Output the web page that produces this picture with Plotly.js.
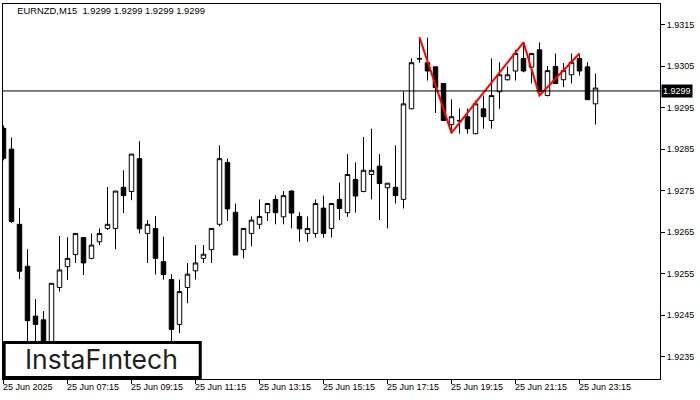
<!DOCTYPE html>
<html><head><meta charset="utf-8">
<script src="https://cdn.plot.ly/plotly-3.0.1.min.js"></script>
<style>html,body{margin:0;padding:0;background:#fff}#chart{width:700px;height:400px}</style>
</head><body><div id="chart"></div>
<script>
const chartTitle = "EURNZD,M15 \u00a01.9299 1.9299 1.9299 1.9299";
const currentPrice = 1.9299;
const currentLabel = "1.9299";

const openP = [1.92900,1.92850,1.92669,1.92568,1.92448,1.92439,1.92354,1.92517,1.92567,1.92596,
1.92637,1.92587,1.92627,1.92659,1.92659,1.92758,1.92748,1.92827,1.92647,1.92659,
1.92579,1.92536,1.92428,1.92517,1.92557,1.92587,1.92608,1.92669,1.92818,1.92698,
1.92608,1.92647,1.92669,1.92697,1.92729,1.92687,1.92749,1.92688,1.92647,1.92647,
1.92708,1.92659,1.92729,1.92697,1.92777,1.92748,1.92789,1.92809,1.92757,1.92758,
1.92729,1.92947,1.93068,1.93058,1.93048,1.93008,1.92909,1.92919,1.92928,1.92887,
1.92947,1.92919,1.92988,1.93017,1.93038,1.93068,1.93047,1.93089,1.92979,1.93049,
1.93017,1.93029,1.93068,1.93048,1.92959];
const highP = [1.92907,1.92878,1.92708,1.92609,1.92489,1.92460,1.92527,1.92641,1.92638,1.92647,
1.92637,1.92647,1.92659,1.92759,1.92749,1.92799,1.92838,1.92869,1.92679,1.92689,
1.92639,1.92549,1.92536,1.92576,1.92619,1.92619,1.92659,1.92859,1.92827,1.92719,
1.92659,1.92688,1.92729,1.92719,1.92739,1.92749,1.92751,1.92698,1.92688,1.92729,
1.92738,1.92720,1.92769,1.92838,1.92818,1.92879,1.92899,1.92838,1.92768,1.92859,
1.92989,1.93068,1.93119,1.93118,1.93049,1.93008,1.92970,1.92948,1.92948,1.92967,
1.92979,1.93068,1.93059,1.93049,1.93089,1.93107,1.93080,1.93107,1.93050,1.93080,
1.93057,1.93080,1.93080,1.93059,1.93032];
const lowP = [1.92823,1.92672,1.92537,1.92386,1.92378,1.92306,1.92342,1.92507,1.92535,1.92576,
1.92547,1.92585,1.92619,1.92655,1.92609,1.92696,1.92727,1.92647,1.92576,1.92548,
1.92536,1.92378,1.92407,1.92479,1.92536,1.92576,1.92576,1.92664,1.92677,1.92595,
1.92587,1.92616,1.92658,1.92677,1.92669,1.92669,1.92659,1.92627,1.92627,1.92637,
1.92637,1.92637,1.92679,1.92687,1.92697,1.92746,1.92729,1.92679,1.92659,1.92719,
1.92707,1.92946,1.93058,1.93015,1.92937,1.92918,1.92887,1.92887,1.92887,1.92886,
1.92899,1.92899,1.92947,1.93015,1.93015,1.93035,1.93008,1.92988,1.92977,1.93007,
1.92999,1.93008,1.93027,1.92969,1.92909];
const closeP = [1.92828,1.92676,1.92556,1.92437,1.92428,1.92330,1.92527,1.92559,1.92587,1.92647,
1.92576,1.92619,1.92647,1.92669,1.92749,1.92738,1.92838,1.92658,1.92669,1.92587,
1.92548,1.92416,1.92507,1.92549,1.92576,1.92597,1.92659,1.92827,1.92706,1.92595,
1.92659,1.92679,1.92688,1.92719,1.92697,1.92738,1.92696,1.92658,1.92659,1.92719,
1.92647,1.92719,1.92707,1.92789,1.92737,1.92799,1.92799,1.92767,1.92768,1.92738,
1.92959,1.93058,1.93067,1.93038,1.92998,1.92919,1.92928,1.92918,1.92899,1.92959,
1.92928,1.92979,1.93029,1.93029,1.93080,1.93038,1.93080,1.92988,1.93039,1.93008,
1.93039,1.93059,1.93038,1.92969,1.92997];

// pattern (red zig-zag): bar index and price
const patternBar = [52, 56, 65, 67, 72];
const patternPrice = [1.93119, 1.92889, 1.93107, 1.92979, 1.93080];

// x-axis tick labels (bar index of each tick)
const tickBars = [0, 8, 16, 24, 32, 40, 48, 56, 64, 72];
const tickLabels = ["25 Jun 2025","25 Jun 07:15","25 Jun 09:15","25 Jun 11:15","25 Jun 13:15",
  "25 Jun 15:15","25 Jun 17:15","25 Jun 19:15","25 Jun 21:15","25 Jun 23:15"];

const yTicks = [1.9235,1.9245,1.9255,1.9265,1.9275,1.9285,1.9295,1.9305,1.9315];
const brand = "InstaF\u0131ntech";

const barIndex = openP.map((_, i) => i);
const axisFont = {family: "Liberation Sans, Arial, sans-serif", size: 9, color: "#000"};

const traces = [
  {
    type: "candlestick", x: barIndex, open: openP, high: highP, low: lowP, close: closeP,
    increasing: {line: {color: "#000", width: 1}, fillcolor: "#fff"},
    decreasing: {line: {color: "#000", width: 1}, fillcolor: "#000"},
    whiskerwidth: 0, hoverinfo: "skip", showlegend: false
  },
  {
    type: "scatter", mode: "lines", x: patternBar, y: patternPrice,
    line: {color: "#ff0000", width: 2}, hoverinfo: "skip", showlegend: false
  }
];

const annotations = tickBars.map((b, k) => ({
  x: b, xref: "x", y: 0, yref: "paper", yanchor: "top", xanchor: "left",
  xshift: -2.5, yshift: -1, text: tickLabels[k], showarrow: false, font: axisFont
}));
annotations.push({
  x: 1, xref: "paper", y: currentPrice, yref: "y", xanchor: "left", yanchor: "middle",
  xshift: 1, text: currentLabel, showarrow: false, bgcolor: "#000", borderpad: 1,
  font: {family: "Liberation Sans, Arial, sans-serif", size: 9, color: "#fff"}
});
annotations.push({
  x: 0.1502, xref: "paper", y: 0.0541, yref: "paper", xanchor: "center", yanchor: "middle",
  text: brand, showarrow: false,
  font: {family: "Inter, sans-serif", size: 26.5, color: "#1e1e1e", weight: 400}
});

const layout = {
  width: 700, height: 400,
  margin: {l: 3, r: 40, t: 4, b: 21, pad: 0},
  paper_bgcolor: "#fff", plot_bgcolor: "#fff",
  title: {text: chartTitle, x: 0.0247, xanchor: "left", xref: "container",
          y: 0.9725, yanchor: "middle", yref: "container",
          font: {family: "Liberation Sans, Arial, sans-serif", size: 9.4, color: "#000"}},
  showlegend: false,
  boxgap: 0.44, boxgroupgap: 0,
  xaxis: {
    range: [-0.0625, 82.0625], rangeslider: {visible: false},
    showgrid: false, zeroline: false, showline: true, mirror: true,
    linecolor: "#000", linewidth: 1,
    tickmode: "array", tickvals: tickBars, ticktext: tickBars.map(() => ""),
    ticks: "outside", ticklen: 4, tickcolor: "#000", tickwidth: 1, showticklabels: false
  },
  yaxis: {
    range: [1.922966, 1.931993], side: "right",
    showgrid: false, zeroline: false, showline: true, mirror: true,
    linecolor: "#000", linewidth: 1,
    tickmode: "array", tickvals: yTicks, ticktext: yTicks.map(v => v.toFixed(4)),
    ticks: "outside", ticklen: 4, tickcolor: "#000", tickwidth: 1, tickfont: axisFont
  },
  shapes: [
    {type: "line", xref: "paper", x0: 0, x1: 1, yref: "y", y0: currentPrice, y1: currentPrice,
     line: {color: "#000", width: 1}},
    {type: "rect", xref: "paper", yref: "paper", x0: 0.0018, x1: 0.3002, y0: 0.004, y1: 0.0973,
     fillcolor: "#fff", line: {color: "#000", width: 3}, layer: "above"}
  ],
  annotations: annotations
};

Plotly.newPlot("chart", traces, layout, {staticPlot: true, displayModeBar: false});
</script></body></html>
